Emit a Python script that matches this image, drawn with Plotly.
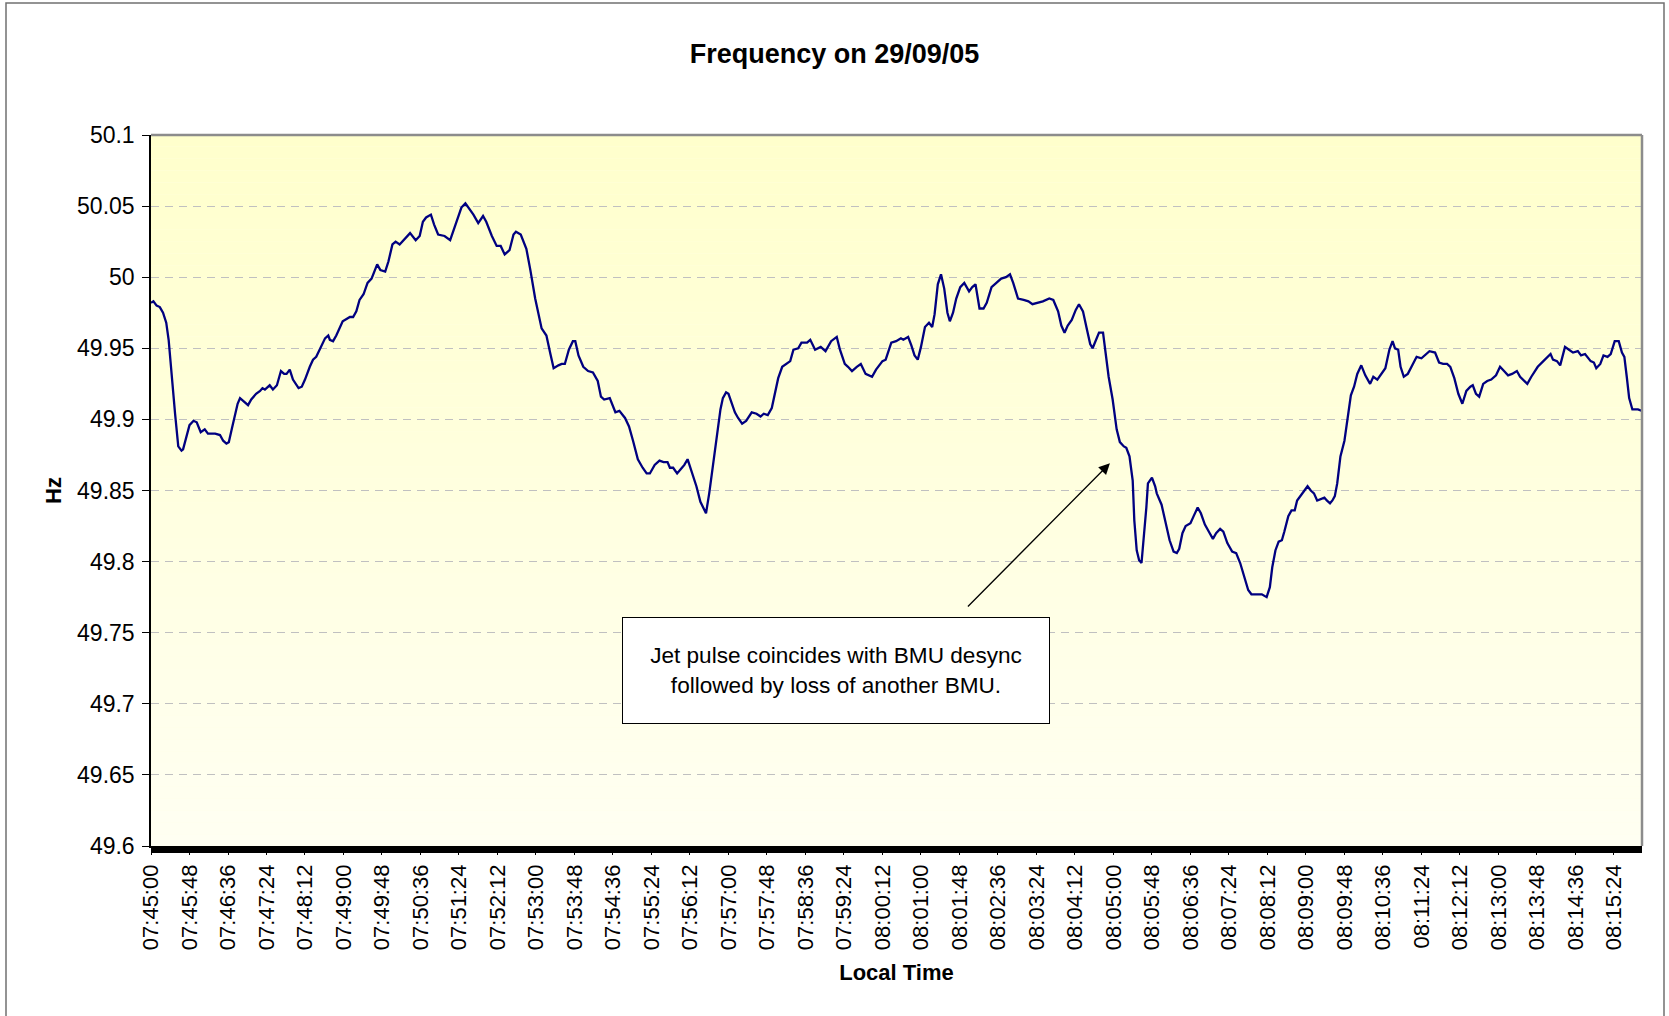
import datetime as dt
import plotly.graph_objects as go

# ---------------- data ----------------
start_time = "2005-09-29 07:45:00"
# seconds after 07:45:00
secs = [0, 3, 7, 11, 15, 19, 22, 26, 30, 34, 38, 40, 44, 48, 53, 57, 62, 67, 71, 80,
        86, 90, 94, 97, 101, 105, 108, 111, 115, 121, 125, 131, 136, 139, 142, 148, 152, 157, 162, 166,
        169, 173, 177, 184, 188, 192, 198, 202, 206, 213, 217, 221, 223, 227, 231, 239, 244, 248, 252, 256,
        260, 265, 270, 275, 282, 286, 292, 296, 301, 305, 310, 316, 323, 330, 335, 339, 343, 349, 353, 358,
        366, 373, 379, 383, 387, 392, 398, 402, 408, 414, 418, 425, 431, 436, 441, 447, 452, 455, 461, 468,
        473, 479, 487, 493, 498, 502, 508, 512, 516, 521, 526, 529, 533, 539, 545, 551, 557, 561, 565, 572,
        579, 584, 591, 596, 601, 607, 613, 618, 622, 628, 634, 639, 644, 647, 651, 656, 662, 665, 669, 674,
        680, 685, 692, 696, 703, 707, 710, 713, 717, 720, 724, 728, 732, 737, 742, 749, 755, 760, 764, 769,
        774, 778, 782, 787, 792, 797, 801, 807, 811, 818, 822, 828, 835, 841, 848, 855, 859, 865, 869, 874,
        880, 885, 891, 895, 899, 904, 912, 916, 923, 929, 935, 938, 944, 948, 952, 956, 960, 965, 970, 974,
        977, 981, 985, 989, 993, 996, 1000, 1004, 1009, 1014, 1020, 1024, 1028, 1033, 1038, 1042, 1048, 1054, 1060, 1066,
        1071, 1075, 1081, 1088, 1094, 1099, 1105, 1112, 1120, 1125, 1131, 1135, 1139, 1143, 1148, 1153, 1157, 1162, 1167, 1171,
        1174, 1179, 1182, 1187, 1190, 1194, 1199, 1204, 1208, 1213, 1216, 1220, 1224, 1226, 1229, 1232, 1235, 1238, 1241, 1243,
        1248, 1252, 1254, 1260, 1265, 1270, 1275, 1279, 1282, 1286, 1290, 1296, 1300, 1305, 1309, 1314, 1319, 1324, 1328, 1333,
        1337, 1342, 1348, 1353, 1358, 1363, 1368, 1372, 1379, 1385, 1391, 1395, 1398, 1402, 1406, 1410, 1413, 1418, 1422, 1426,
        1429, 1433, 1437, 1442, 1446, 1450, 1454, 1458, 1463, 1466, 1470, 1473, 1476, 1479, 1483, 1488, 1492, 1496, 1500, 1504,
        1509, 1514, 1520, 1524, 1529, 1534, 1539, 1544, 1548, 1551, 1555, 1558, 1562, 1567, 1573, 1578, 1584, 1588, 1594, 1601,
        1606, 1611, 1616, 1620, 1625, 1630, 1635, 1640, 1645, 1648, 1652, 1656, 1661, 1666, 1671, 1677, 1682, 1687, 1692, 1697,
        1703, 1707, 1712, 1716, 1721, 1729, 1736, 1741, 1745, 1748, 1753, 1757, 1760, 1763, 1768, 1773, 1779, 1783, 1788, 1791,
        1795, 1799, 1802, 1807, 1811, 1816, 1820, 1825, 1830, 1834, 1837, 1840, 1843, 1847, 1850, 1854, 1859]

freq = [49.982, 49.983, 49.980, 49.979, 49.975, 49.968, 49.956, 49.928, 49.904, 49.881, 49.878, 49.879, 49.887, 49.896, 49.899, 49.898, 49.891, 49.893, 49.890, 49.890,
        49.889, 49.885, 49.883, 49.884, 49.894, 49.903, 49.911, 49.915, 49.913, 49.910, 49.914, 49.918, 49.920, 49.922, 49.921, 49.924, 49.921, 49.924, 49.934, 49.932,
        49.932, 49.935, 49.928, 49.922, 49.923, 49.928, 49.937, 49.942, 49.944, 49.953, 49.957, 49.959, 49.956, 49.955, 49.959, 49.969, 49.971, 49.972, 49.972, 49.976,
        49.984, 49.988, 49.996, 49.999, 50.009, 50.005, 50.004, 50.011, 50.023, 50.025, 50.023, 50.027, 50.031, 50.026, 50.029, 50.039, 50.042, 50.044, 50.037, 50.030,
        50.029, 50.026, 50.036, 50.043, 50.049, 50.052, 50.047, 50.044, 50.038, 50.043, 50.039, 50.029, 50.022, 50.022, 50.016, 50.019, 50.030, 50.032, 50.030, 50.020,
        50.005, 49.985, 49.964, 49.959, 49.946, 49.936, 49.938, 49.939, 49.939, 49.949, 49.955, 49.955, 49.945, 49.937, 49.934, 49.933, 49.927, 49.916, 49.914, 49.915,
        49.905, 49.906, 49.901, 49.895, 49.885, 49.872, 49.866, 49.862, 49.862, 49.868, 49.871, 49.870, 49.870, 49.866, 49.866, 49.862, 49.866, 49.868, 49.872, 49.863,
        49.853, 49.842, 49.834, 49.848, 49.878, 49.895, 49.907, 49.915, 49.919, 49.918, 49.911, 49.905, 49.901, 49.897, 49.899, 49.905, 49.904, 49.902, 49.904, 49.903,
        49.908, 49.918, 49.929, 49.937, 49.939, 49.941, 49.949, 49.950, 49.954, 49.954, 49.956, 49.949, 49.951, 49.948, 49.955, 49.958, 49.949, 49.939, 49.937, 49.934,
        49.937, 49.939, 49.932, 49.931, 49.930, 49.935, 49.941, 49.942, 49.954, 49.955, 49.957, 49.956, 49.958, 49.952, 49.945, 49.942, 49.951, 49.965, 49.968, 49.965,
        49.974, 49.995, 50.002, 49.992, 49.975, 49.969, 49.975, 49.985, 49.993, 49.996, 49.990, 49.993, 49.995, 49.978, 49.978, 49.982, 49.993, 49.996, 49.999, 50.000,
        50.002, 49.996, 49.985, 49.984, 49.983, 49.981, 49.982, 49.983, 49.985, 49.984, 49.976, 49.966, 49.961, 49.966, 49.970, 49.977, 49.981, 49.976, 49.963, 49.953,
        49.950, 49.957, 49.961, 49.961, 49.947, 49.930, 49.914, 49.893, 49.884, 49.881, 49.880, 49.874, 49.857, 49.829, 49.808, 49.801, 49.799, 49.817, 49.838, 49.855,
        49.859, 49.853, 49.848, 49.840, 49.827, 49.815, 49.807, 49.806, 49.809, 49.820, 49.825, 49.827, 49.832, 49.838, 49.834, 49.826, 49.821, 49.816, 49.820, 49.823,
        49.821, 49.813, 49.807, 49.806, 49.799, 49.790, 49.780, 49.777, 49.777, 49.777, 49.775, 49.782, 49.796, 49.808, 49.814, 49.815, 49.821, 49.832, 49.836, 49.836,
        49.843, 49.846, 49.849, 49.853, 49.850, 49.848, 49.843, 49.844, 49.845, 49.843, 49.841, 49.843, 49.846, 49.855, 49.874, 49.885, 49.902, 49.917, 49.923, 49.932,
        49.938, 49.931, 49.925, 49.930, 49.928, 49.932, 49.936, 49.949, 49.955, 49.950, 49.949, 49.937, 49.930, 49.932, 49.938, 49.944, 49.943, 49.945, 49.948, 49.947,
        49.940, 49.939, 49.939, 49.937, 49.929, 49.918, 49.911, 49.920, 49.923, 49.924, 49.918, 49.916, 49.925, 49.927, 49.928, 49.931, 49.937, 49.934, 49.931, 49.932,
        49.934, 49.930, 49.927, 49.925, 49.930, 49.937, 49.941, 49.944, 49.946, 49.942, 49.941, 49.938, 49.944, 49.951, 49.949, 49.947, 49.948, 49.945, 49.946, 49.944,
        49.941, 49.940, 49.936, 49.939, 49.945, 49.944, 49.946, 49.955, 49.955, 49.947, 49.944, 49.930, 49.915, 49.907, 49.907, 49.907, 49.906]

y_tickvals = [49.6, 49.65, 49.7, 49.75, 49.8, 49.85, 49.9, 49.95, 50.0, 50.05, 50.1]
y_ticktext = ["49.6", "49.65", "49.7", "49.75", "49.8", "49.85", "49.9", "49.95", "50", "50.05", "50.1"]

title_text = "Frequency on 29/09/05"
x_title = "Local Time"
y_title = "Hz"
note_text = "Jet pulse coincides with BMU desync<br>followed by loss of another BMU."

# ---------------- build ----------------
t0 = dt.datetime.strptime(start_time, "%Y-%m-%d %H:%M:%S")
times = [t0 + dt.timedelta(seconds=s) for s in secs]
x_end = t0 + dt.timedelta(seconds=1859)
arrow_tip_t = t0 + dt.timedelta(seconds=1195.6)

FONT = "Liberation Sans, Arial, sans-serif"
W, H = 1669, 1016
ML, MR, MT, MB = 151, 27, 135, 170
PW, PH = W - ML - MR, H - MT - MB

fig = go.Figure()
fig.add_trace(go.Scatter(x=times, y=freq, mode="lines",
                         line=dict(color="#000080", width=2.3), hoverinfo="x+y"))

shapes = []
# yellow gradient background (below gridlines)
n = 60
for i in range(n):
    f = i / (n - 1)
    b = int(round(204 + (242 - 204) * f))
    y1 = 50.1 - 0.5 * i / n
    y0 = 50.1 - 0.5 * (i + 1) / n
    shapes.append(dict(type="rect", xref="x domain", yref="y", x0=0, x1=1, y0=y0, y1=y1,
                       fillcolor=f"rgb(255,255,{b})", line=dict(width=0), layer="below"))
# dense category tick band under the x axis
shapes.append(dict(type="rect", xref="x domain", yref="paper", x0=0, x1=1,
                   y0=-7 / PH, y1=0, fillcolor="black", line=dict(width=0), layer="above"))
# top and right plot borders (grey)
shapes.append(dict(type="line", xref="paper", yref="paper", x0=0, x1=1, y0=1, y1=1,
                   line=dict(color="#8c8c8c", width=2.5)))
shapes.append(dict(type="line", xref="paper", yref="paper", x0=1, x1=1, y0=0, y1=1,
                   line=dict(color="#8c8c8c", width=2.5)))
# outer chart-area border
shapes.append(dict(type="rect", xref="paper", yref="paper",
                   x0=(6 - ML) / PW, x1=(1664 - ML) / PW,
                   y0=(MT + PH - 1030) / PH, y1=(MT + PH - 3) / PH,
                   line=dict(color="#707070", width=1.5), fillcolor="rgba(0,0,0,0)"))

annotations = [
    dict(x=arrow_tip_t, y=49.8692, xref="x", yref="y", text="", showarrow=True,
         ax=-143.5, ay=144.8, arrowhead=2, arrowsize=1.7, arrowwidth=1.3, arrowcolor="black"),
    dict(x=(836.2 - ML) / PW, y=(MT + PH - 670) / PH, xref="paper", yref="paper",
         text=note_text, showarrow=False, xanchor="center", yanchor="middle",
         width=426, height=105, borderpad=0, bordercolor="black", borderwidth=1,
         bgcolor="white", align="center", font=dict(family=FONT, size=22.6, color="black")),
]

fig.update_layout(
    width=W, height=H, autosize=False,
    margin=dict(l=ML, r=MR, t=MT, b=MB),
    paper_bgcolor="white", plot_bgcolor="#FFFFE6",
    showlegend=False,
    font=dict(family=FONT, size=22, color="black"),
    title=dict(text=f"<b>{title_text}</b>", x=0.5, xref="container", xanchor="center",
               y=1 - 54 / H, yref="container", yanchor="middle",
               font=dict(family=FONT, size=27, color="black")),
    shapes=shapes,
    annotations=annotations,
)

fig.update_xaxes(
    type="date", range=[t0, x_end], tickformat="%H:%M:%S",
    tick0=t0, dtick=48000, tickangle=-90,
    showgrid=False, zeroline=False,
    showline=True, linecolor="black", linewidth=1.5,
    ticks="outside", ticklen=7, tickcolor="black", ticklabelstandoff=1,
    tickfont=dict(family=FONT, size=22, color="black"),
    title=dict(text=f"<b>{x_title}</b>", standoff=15,
               font=dict(family=FONT, size=22, color="black")),
    automargin=False,
)
fig.update_yaxes(
    range=[49.6, 50.1], tickvals=y_tickvals, ticktext=y_ticktext,
    showgrid=True, gridcolor="#C0C0C0", gridwidth=1, griddash="8px,6px",
    zeroline=False, showline=True, linecolor="black", linewidth=1.5,
    ticks="outside", ticklen=7, tickcolor="black", ticklabelstandoff=3,
    tickfont=dict(family=FONT, size=23, color="black"),
    title=dict(text=f"<b>{y_title}</b>", standoff=9,
               font=dict(family=FONT, size=22, color="black")),
    automargin=False,
)

# remove the default 8px page margin so the figure sits at the window origin
fig.write_html("out.html", config={"displayModeBar": False},
               post_script="document.body.style.margin='0px';document.body.style.overflow='hidden';")
